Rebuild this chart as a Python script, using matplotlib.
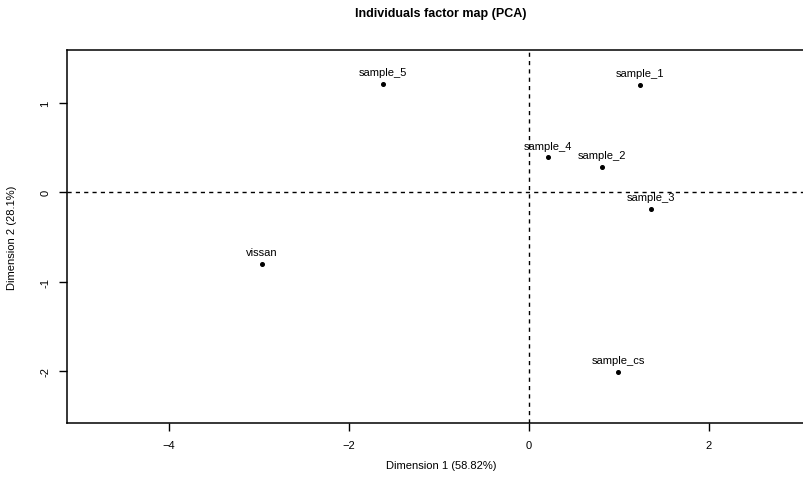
import numpy as np
import matplotlib.pyplot as plt

# PCA individual coordinates
names = ['sample_1', 'sample_2', 'sample_3', 'sample_4', 'sample_5', 'sample_cs', 'vissan']
dim1 = [1.23, 0.81, 1.36, 0.21, -1.62, 0.99, -2.97]
dim2 = [1.20, 0.28, -0.19, 0.39, 1.21, -2.01, -0.80]

xticks = [-4, -2, 0, 2]
yticks = [-2, -1, 0, 1]

plt.rcParams['font.family'] = ['Liberation Sans', 'DejaVu Sans']
plt.rcParams['font.size'] = 8

fig = plt.figure(figsize=(8.04, 4.85), dpi=100)
ax = fig.add_axes([67/804, 1 - 424/485, 748/804, 373/485])

ax.axhline(0, color='k', linestyle=(0, (3, 3)), linewidth=1)
ax.axvline(0, color='k', linestyle=(0, (3, 3)), linewidth=1)

ax.plot(dim1, dim2, linestyle='', marker='o', markersize=2.6, color='k')
for n, x, y in zip(names, dim1, dim2):
	ax.annotate(n, (x, y), xytext=(0, 8.5), textcoords='offset points',
		ha='center', va='center', fontsize=8)

ax.set_xlim(-5.133, 3.18)
ax.set_ylim(-2.58, 1.59)

ax.set_xticks(xticks)
ax.set_yticks(yticks)
ax.set_xticklabels([str(t).replace('-', '\u2212') for t in xticks])
ax.set_yticklabels([str(t) for t in yticks], rotation=90, va='center')
ax.tick_params(direction='out', length=6, width=1, pad=6, labelsize=8)

for s in ax.spines.values():
	s.set_linewidth(1.1)

fig.text(441/804, 1 - 14/485, 'Individuals factor map (PCA)', ha='center', va='center',
	fontsize=9, fontweight='bold')
fig.text(441/804, 1 - 466/485, 'Dimension 1 (58.82%)', ha='center', va='center', fontsize=8)
fig.text(12/804, 1 - 238/485, 'Dimension 2 (28.1%)', ha='center', va='center',
	fontsize=8, rotation=90)

fig.savefig('out.png', dpi=100)
